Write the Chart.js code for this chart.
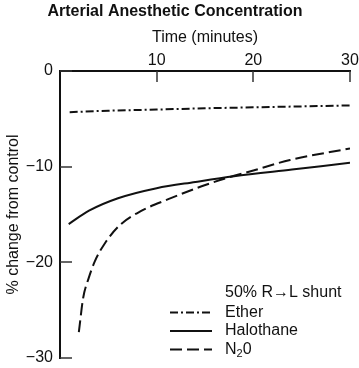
<!DOCTYPE html>
<html><head><meta charset="utf-8">
<script src="https://cdn.jsdelivr.net/npm/chart.js@4.4.1/dist/chart.umd.min.js"></script>
<style>html,body{margin:0;padding:0;background:#fff;}</style>
</head><body>
<canvas id="c" width="359" height="368" style="display:block"></canvas>
<script>
const chartTitle = 'Arterial Anesthetic Concentration';
const xAxisTitle = 'Time (minutes)';
const yAxisTitle = '% change from control';
const legendTitle = '50% R→L shunt';
const seriesNames = ['Ether', 'Halothane', 'N₂0'];
const xTickValues = [10, 20, 30];
const yTickValues = [0, -10, -20, -30];
const yTickLabels = ['0', '−10', '−20', '−30'];

const etherTime = [1, 5, 10, 15, 20, 25, 30];
const etherValues = [-4.3, -4.15, -4.03, -3.9, -3.8, -3.7, -3.6];

const halothaneTime = [0.9, 3, 6, 10, 14, 18, 24, 30];
const halothaneValues = [-16.0, -14.6, -13.3, -12.25, -11.6, -11.0, -10.3, -9.6];

const n2oTime = [1.95, 2.4, 2.95, 3.6, 4.65, 6.2, 8.45, 11.2, 14.65, 17.2, 20, 23.8, 30];
const n2oValues = [-27.3, -23.7, -21.7, -19.9, -18.0, -16.1, -14.6, -13.4, -12.05, -11.2, -10.4, -9.3, -8.1];

const FONT = '"Liberation Sans", Arial, Helvetica, sans-serif';
const pts = (xs, ys) => xs.map((x, i) => ({x: x, y: ys[i]}));

const lineStyles = [
  {dash: [8, 3, 2, 3]},
  {dash: []},
  {dash: [12, 5]}
];

const datasets = [
  {label: seriesNames[0], data: pts(etherTime, etherValues)},
  {label: seriesNames[1], data: pts(halothaneTime, halothaneValues)},
  {label: seriesNames[2], data: pts(n2oTime, n2oValues)}
].map((d, i) => Object.assign(d, {
  borderColor: '#111', borderWidth: 2, borderDash: lineStyles[i].dash,
  pointRadius: 0, fill: false, cubicInterpolationMode: 'monotone'
}));

const inwardTicks = {
  id: 'inwardTicks',
  afterDatasetsDraw(chart) {
    const {ctx, chartArea: a, scales: {x, y}} = chart;
    ctx.save();
    ctx.strokeStyle = '#333';
    ctx.lineWidth = 1.5;
    xTickValues.forEach(v => {
      const px = Math.round(x.getPixelForValue(v));
      ctx.beginPath(); ctx.moveTo(px, a.top); ctx.lineTo(px, a.top + 11); ctx.stroke();
    });
    yTickValues.forEach(v => {
      const py = Math.round(y.getPixelForValue(v));
      ctx.beginPath(); ctx.moveTo(a.left, py); ctx.lineTo(a.left + 12, py); ctx.stroke();
    });
    ctx.restore();
  }
};

function drawLabel(ctx, text, x, y) {
  let cx = x;
  for (const ch of text) {
    const code = ch.codePointAt(0);
    if (code >= 0x2080 && code <= 0x2089) {
      ctx.font = '11px ' + FONT;
      const s = String(code - 0x2080);
      ctx.fillText(s, cx, y + 4);
      cx += ctx.measureText(s).width;
      ctx.font = '16px ' + FONT;
    } else {
      ctx.fillText(ch, cx, y);
      cx += ctx.measureText(ch).width;
    }
  }
}

const customLegend = {
  id: 'customLegend',
  afterDraw(chart, args, opts) {
    const {ctx} = chart;
    ctx.save();
    ctx.fillStyle = '#111';
    ctx.font = '16px ' + FONT;
    ctx.textBaseline = 'middle';
    ctx.textAlign = 'left';
    ctx.fillText(legendTitle, opts.textX, opts.titleY);
    chart.data.datasets.forEach((ds, i) => {
      const yy = opts.firstY + i * opts.rowH;
      ctx.strokeStyle = ds.borderColor;
      ctx.lineWidth = ds.borderWidth;
      ctx.setLineDash(ds.borderDash || []);
      ctx.beginPath(); ctx.moveTo(opts.lineX0, yy); ctx.lineTo(opts.lineX1, yy); ctx.stroke();
      ctx.setLineDash([]);
      drawLabel(ctx, ds.label, opts.textX, yy);
    });
    ctx.restore();
  }
};

new Chart(document.getElementById('c'), {
  type: 'line',
  data: {datasets: datasets},
  plugins: [inwardTicks, customLegend],
  options: {
    responsive: false,
    devicePixelRatio: 1,
    animation: false,
    layout: {padding: {left: 0, right: 9, top: 0, bottom: 10}},
    plugins: {
      legend: {display: false},
      tooltip: {enabled: false},
      title: {
        display: true, text: chartTitle, color: '#111',
        font: {family: FONT, size: 16, weight: 'bold'},
        padding: {top: 2, bottom: 0}
      },
      customLegend: {textX: 225, titleY: 293, firstY: 312.5, rowH: 18.5, lineX0: 170, lineX1: 212}
    },
    scales: {
      x: {
        type: 'linear', position: 'top', min: 0, max: 30,
        afterBuildTicks: s => { s.ticks = xTickValues.map(v => ({value: v})); },
        afterFit: s => { s.height = 49.8; s.paddingLeft = 0; s.paddingRight = 0; },
        grid: {display: false, drawTicks: false},
        border: {display: true, color: '#111', width: 2},
        ticks: {color: '#111', font: {family: FONT, size: 16}, padding: 1, maxRotation: 0, autoSkip: false,
                callback: v => String(v)},
        title: {display: true, text: xAxisTitle, color: '#111', font: {family: FONT, size: 16}, padding: {top: 7, bottom: 0}}
      },
      y: {
        type: 'linear', position: 'left', min: -30, max: 0,
        afterBuildTicks: s => { s.ticks = yTickValues.map(v => ({value: v})); },
        afterFit: s => { s.width = 60; s.paddingTop = 0; s.paddingBottom = 0; },
        grid: {display: false, drawTicks: false},
        border: {display: true, color: '#111', width: 2},
        ticks: {color: '#111', font: {family: FONT, size: 16}, padding: 7, autoSkip: false,
                callback: v => yTickLabels[yTickValues.indexOf(v)]},
        title: {display: true, text: yAxisTitle, color: '#111', font: {family: FONT, size: 16}, padding: {top: 4, bottom: 0}}
      }
    }
  }
});
</script>
</body></html>
